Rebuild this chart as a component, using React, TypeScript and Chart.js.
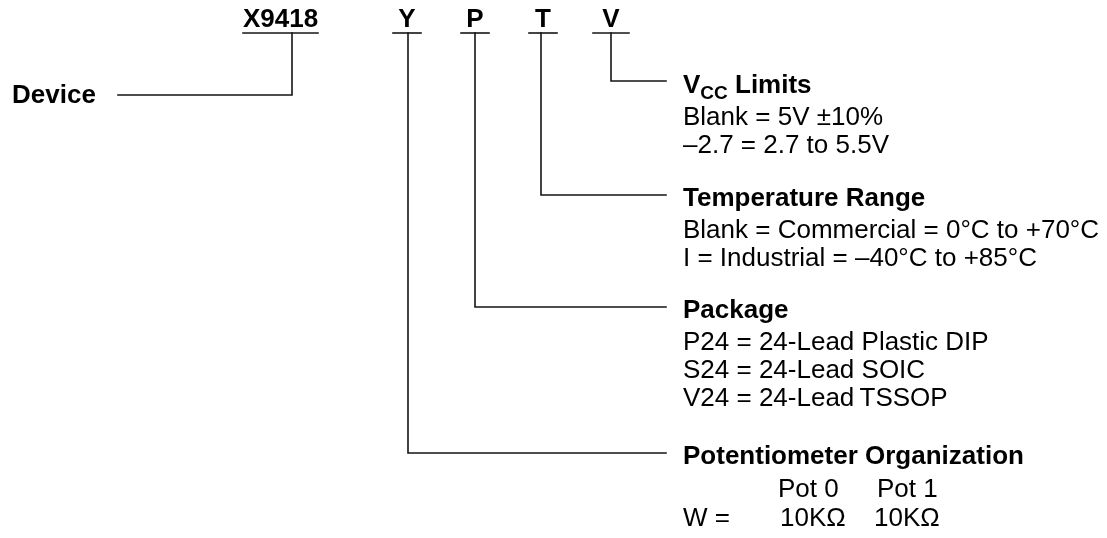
import React, { useEffect, useRef } from "react";
import { Chart, registerables } from "chart.js";

Chart.register(...registerables);

const WIDTH = 1107;
const HEIGHT = 538;

// Part-number fields across the top
const fieldNames = ["X9418", "Y", "P", "T", "V"];
const fieldTextX = [280.5, 407, 475, 543, 611];
const fieldBaseline = 27;
const underlineStart = [243, 393, 461, 529, 593];
const underlineEnd = [318, 421, 489, 557, 629];
const underlineY = 33;

// Connector stems and leaders
const stemX = [292, 408, 475, 541, 611];
const elbowY = [95, 453, 307, 195, 81];
const leaderEndX = [118, 666, 666, 666, 666];

// Left label
const deviceLabel = "Device";
const deviceLabelX = 12;
const deviceLabelY = 103;

// Right-hand description blocks
const blockX = 683;
const blockHeads = ["Limits", "Temperature Range", "Package", "Potentiometer Organization"];
const blockHeadY = [93, 206, 318, 464];
const blockLines = [
  ["Blank = 5V \u00B110%", "\u20132.7 = 2.7 to 5.5V"],
  ["Blank = Commercial = 0\u00B0C to +70\u00B0C", "I = Industrial = \u201340\u00B0C to +85\u00B0C"],
  ["P24 = 24-Lead Plastic DIP", "S24 = 24-Lead SOIC", "V24 = 24-Lead\u2009TSSOP"],
  [],
];
const lineGap = 28;
const firstLineGap = 32;

// Potentiometer table
const potColumns = ["Pot 0", "Pot 1"];
const potColumnX = [778, 877];
const potRowLabel = "W =";
const potValues = ["10K\u03A9", "10K\u03A9"];
const potValueX = [780, 874];
const potHeaderY = 497;
const potRowY = 526;

const FONT = "'Liberation Sans', Arial, Helvetica, sans-serif";

export default function App() {
  const ref = useRef<HTMLCanvasElement | null>(null);

  useEffect(() => {
    if (!ref.current) return;

    const datasets: any[] = [];
    for (let i = 0; i < fieldNames.length; i++) {
      datasets.push({
        label: fieldNames[i] + " underline",
        data: [
          { x: underlineStart[i], y: underlineY },
          { x: underlineEnd[i], y: underlineY },
        ],
      });
      datasets.push({
        label: fieldNames[i] + " leader",
        data: [
          { x: stemX[i], y: underlineY },
          { x: stemX[i], y: elbowY[i] },
          { x: leaderEndX[i], y: elbowY[i] },
        ],
      });
    }
    datasets.forEach((d) => {
      d.showLine = true;
      d.borderColor = "#151515";
      d.borderWidth = 1.6;
      d.pointRadius = 0;
      d.fill = false;
      d.tension = 0;
      d.borderCapStyle = "square";
      d.borderJoinStyle = "miter";
    });

    const textPlugin = {
      id: "diagramText",
      afterDraw(chart: any) {
        const ctx = chart.ctx as CanvasRenderingContext2D;
        const xs = chart.scales.x;
        const ys = chart.scales.y;
        const px = (v: number) => xs.getPixelForValue(v);
        const py = (v: number) => ys.getPixelForValue(v);
        ctx.save();
        ctx.fillStyle = "#000";
        ctx.textBaseline = "alphabetic";

        // top fields
        ctx.font = `bold 26px ${FONT}`;
        ctx.textAlign = "center";
        for (let i = 0; i < fieldNames.length; i++) {
          ctx.fillText(fieldNames[i], px(fieldTextX[i]), py(fieldBaseline));
        }

        ctx.textAlign = "left";
        ctx.fillText(deviceLabel, px(deviceLabelX), py(deviceLabelY));

        // headings
        for (let b = 0; b < blockHeads.length; b++) {
          let x = px(blockX);
          const y = py(blockHeadY[b]);
          ctx.font = `bold 26px ${FONT}`;
          if (b === 0) {
            ctx.fillText("V", x, y);
            x += ctx.measureText("V").width;
            ctx.font = `bold 19px ${FONT}`;
            ctx.fillText("CC", x, y + 6);
            x += ctx.measureText("CC").width;
            ctx.font = `bold 26px ${FONT}`;
            x += ctx.measureText(" ").width;
          }
          ctx.fillText(blockHeads[b], x, y);
          ctx.font = `26px ${FONT}`;
          const lines = blockLines[b];
          for (let l = 0; l < lines.length; l++) {
            ctx.fillText(lines[l], px(blockX), py(blockHeadY[b] + firstLineGap + l * lineGap));
          }
        }

        // pot table
        ctx.font = `26px ${FONT}`;
        for (let c = 0; c < potColumns.length; c++) {
          ctx.fillText(potColumns[c], px(potColumnX[c]), py(potHeaderY));
          ctx.fillText(potValues[c], px(potValueX[c]), py(potRowY));
        }
        ctx.fillText(potRowLabel, px(blockX), py(potRowY));
        ctx.restore();
      },
    };

    const chart = new Chart(ref.current, {
      type: "scatter",
      data: { datasets },
      options: {
        animation: false,
        responsive: false,
        maintainAspectRatio: false,
        layout: { padding: 0 },
        plugins: {
          legend: { display: false },
          tooltip: { enabled: false },
        },
        events: [],
        scales: {
          x: { type: "linear", min: 0, max: WIDTH, display: false },
          y: { type: "linear", min: 0, max: HEIGHT, reverse: true, display: false },
        },
      },
      plugins: [textPlugin],
    });

    return () => chart.destroy();
  }, []);

  return (
    <div
      style={{
        position: "fixed",
        left: 0,
        top: 0,
        width: WIDTH,
        height: HEIGHT,
        background: "#fff",
      }}
    >
      <canvas ref={ref} width={WIDTH} height={HEIGHT} style={{ display: "block" }} />
    </div>
  );
}
